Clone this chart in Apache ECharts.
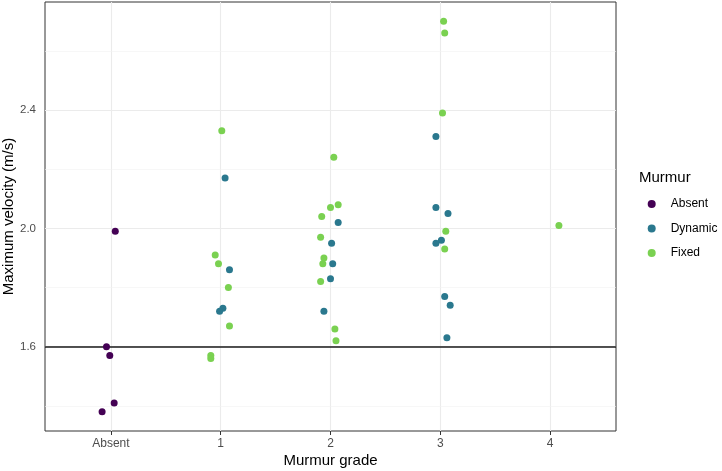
<!DOCTYPE html>
<html>
<head>
<meta charset="utf-8">
<script src="https://cdn.jsdelivr.net/npm/echarts@6/dist/echarts.min.js"></script>
<style>html,body{margin:0;padding:0;background:#fff;}#c{width:722px;height:471px;}</style>
</head>
<body>
<div id="c"></div>
<script>
// Categories and tick values
const categories = ['Absent', '1', '2', '3', '4'];
const xTicks = [0, 1, 2, 3, 4];
const yMajor = [1.6, 2.0, 2.4];
const yMinor = [1.4, 1.8, 2.2, 2.6];
const refLine = 1.6;

// Jittered grade positions (category index + jitter) and velocities
const absentGrade = [0.04, -0.04, -0.01, 0.03, -0.08];
const absentVel   = [1.99, 1.60, 1.57, 1.41, 1.38];

const dynamicGrade = [1.04, 1.08, 1.02, 0.99, 2.07, 2.01, 2.02, 2.00, 1.94, 2.96, 2.96, 3.07, 3.01, 2.96, 3.04, 3.09, 3.06];
const dynamicVel   = [2.17, 1.86, 1.73, 1.72, 2.02, 1.95, 1.88, 1.83, 1.72, 2.31, 2.07, 2.05, 1.96, 1.95, 1.77, 1.74, 1.63];

const fixedGrade = [1.01, 0.95, 0.98, 1.07, 1.08, 0.91, 0.91, 2.03, 2.07, 2.00, 1.92, 1.91, 1.94, 1.93, 1.91, 2.04, 2.05, 3.03, 3.04, 3.02, 3.05, 3.04, 4.08];
const fixedVel   = [2.33, 1.91, 1.88, 1.80, 1.67, 1.57, 1.56, 2.24, 2.08, 2.07, 2.04, 1.97, 1.90, 1.88, 1.82, 1.66, 1.62, 2.70, 2.66, 2.39, 1.99, 1.93, 2.01];

const zip = (a, b) => a.map((v, i) => [v, b[i]]);
const FONT = '"Liberation Sans", Arial, sans-serif';
const chart = echarts.init(document.getElementById('c'), null, {renderer: 'canvas'});

const gridLines = [];
xTicks.forEach(v => gridLines.push({xAxis: v, lineStyle: {color: '#EBEBEB', width: 1.1, type: 'solid'}}));
yMajor.forEach(v => gridLines.push({yAxis: v, lineStyle: {color: '#EBEBEB', width: 1.1, type: 'solid'}}));
yMinor.forEach(v => gridLines.push({yAxis: v, lineStyle: {color: '#F2F2F2', width: 0.6, type: 'solid'}}));

chart.setOption({
  animation: false,
  backgroundColor: '#fff',
  textStyle: {fontFamily: FONT},
  title: {
    text: 'Murmur', left: 639, top: 170, padding: 0,
    textStyle: {fontFamily: FONT, fontSize: 15, fontWeight: 'normal', color: '#000'}
  },
  legend: {
    orient: 'vertical', left: 647.7, top: 198, padding: 0,
    icon: 'circle', itemWidth: 8, itemHeight: 8, itemGap: 12.5,
    data: ['Absent', 'Dynamic', 'Fixed'],
    textStyle: {fontFamily: FONT, fontSize: 12, color: '#000', padding: [0, 0, 0, 10]}
  },
  grid: {left: 45, right: 106, top: 2, bottom: 40, containLabel: false, outerBoundsMode: 'none',
    show: true, borderColor: '#333', borderWidth: 1, backgroundColor: 'transparent'},
  xAxis: {
    type: 'value', min: -0.6, max: 4.6,
    name: 'Murmur grade', nameLocation: 'middle', nameGap: 22, nameMoveOverlap: false,
    nameTextStyle: {fontFamily: FONT, fontSize: 15, color: '#000'},
    axisLine: {show: false},
    splitLine: {show: false},
    axisTick: {show: true, length: 4, lineStyle: {color: '#333'}, customValues: xTicks},
    axisLabel: {customValues: xTicks, margin: 7, color: '#4D4D4D', fontSize: 12, fontFamily: FONT,
      formatter: v => categories[Math.round(v)]}
  },
  yAxis: {
    type: 'value', min: 1.315, max: 2.765,
    name: 'Maximum velocity (m/s)', nameLocation: 'middle', nameGap: 28.5, nameMoveOverlap: false,
    nameTextStyle: {fontFamily: FONT, fontSize: 15, color: '#000'},
    axisLine: {show: false},
    splitLine: {show: false},
    axisTick: {show: true, length: 4, lineStyle: {color: '#333'}, customValues: yMajor},
    axisLabel: {customValues: yMajor, margin: 9, color: '#4D4D4D', fontSize: 11.5, fontFamily: FONT,
      formatter: v => v.toFixed(1)}
  },
  series: [
    {
      name: 'grid', type: 'scatter', data: [], z: 1, silent: true, legendHoverLink: false,
      markLine: {silent: true, symbol: 'none', label: {show: false}, animation: false, z: 1, data: gridLines}
    },
    {
      name: 'ref', type: 'scatter', data: [], z: 2, silent: true,
      markLine: {silent: true, symbol: 'none', label: {show: false}, animation: false, z: 2,
        data: [{yAxis: refLine, lineStyle: {color: '#1a1a1a', width: 1.5, type: 'solid'}}]}
    },
    {name: 'Absent', type: 'scatter', symbolSize: 7, z: 10, itemStyle: {color: '#440154', opacity: 1}, data: zip(absentGrade, absentVel)},
    {name: 'Dynamic', type: 'scatter', symbolSize: 7, z: 10, itemStyle: {color: '#2A788E', opacity: 1}, data: zip(dynamicGrade, dynamicVel)},
    {name: 'Fixed', type: 'scatter', symbolSize: 7, z: 10, itemStyle: {color: '#7AD151', opacity: 1}, data: zip(fixedGrade, fixedVel)}
  ]
});
</script>
</body>
</html>
